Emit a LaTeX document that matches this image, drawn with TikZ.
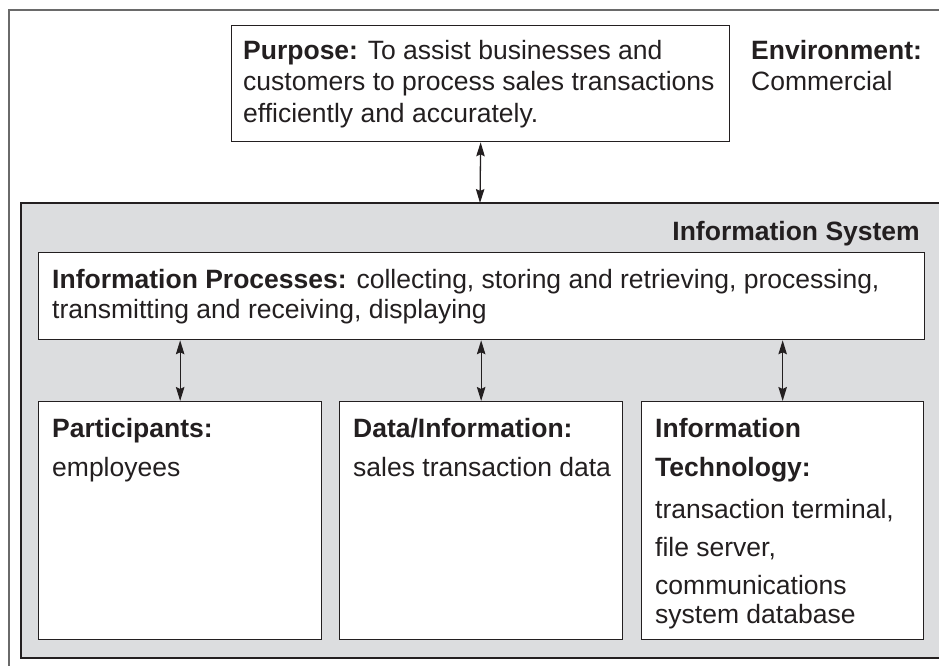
\documentclass[tikz,border=0pt]{standalone}
\usepackage{fontspec}
\setmainfont{Liberation Sans}
\usetikzlibrary{arrows.meta}
\definecolor{sysgray}{HTML}{DCDDDF}
\definecolor{framegray}{HTML}{6A6A6A}
\definecolor{ink}{HTML}{231F20}
\begin{document}
\begin{tikzpicture}[x=1pt,y=-1pt,
  box/.style={draw=ink,line width=1.3pt,fill=white,inner sep=0pt,anchor=north west},
  txt/.style={anchor=base west,inner sep=0pt,font=\fontsize{26.5}{30}\selectfont,text=ink},
  txtr/.style={anchor=base east,inner sep=0pt,font=\fontsize{26.5}{30}\selectfont,text=ink},
  tip/.style={Stealth[length=14pt,width=8.5pt,inset=2pt]},
  arr/.style={draw=ink,line width=1.3pt,{Stealth[length=14pt,width=8.5pt,inset=2pt]}-{Stealth[length=14pt,width=8.5pt,inset=2pt]}}]
\useasboundingbox (0,0) rectangle (939,666);
% outer environment frame
\draw[framegray,line width=2pt] (9,666) -- (9,10) -- (939,10);
% information system area
\fill[sysgray] (21,203) rectangle (939,658);
\draw[ink,line width=1.4pt] (939,203) -- (21,203) -- (21,658) -- (939,658);
\coordinate (systop) at (480,203);
% boxes
\node[box,minimum width=498,minimum height=116] (purpose) at (231,25) {};
\node[box,minimum width=886,minimum height=87] (proc) at (38,252) {};
\node[box,minimum width=283,minimum height=238] (part) at (38,401) {};
\node[box,minimum width=283,minimum height=238] (data) at (339,401) {};
\node[box,minimum width=282,minimum height=238] (tech) at (641,401) {};
% connectors
\draw[arr] (purpose.south) -- (systop);
\draw[arr] (proc.south -| part.north) -- (part.north);
\draw[arr] (proc.south -| data.north) -- (data.north);
\draw[arr] (proc.south -| tech.north) -- (tech.north);
% texts
\node[txt] (p1) at (243,60) {\textbf{Purpose:} To assist businesses and};
\node[txt] (p2) at (243,91) {customers to process sales transactions};
\node[txt] (p3) at (243,122) {efficiently and accurately.};
\node[txt] (e1) at (751,60) {\textbf{Environment:}};
\node[txt] (e2) at (751,91) {Commercial};
\node[txtr] (is) at (920,240) {\textbf{Information System}};
\node[txt] (ip1) at (52,288) {\textbf{Information Processes:} collecting, storing and retrieving, processing,};
\node[txt] (ip2) at (52,318) {transmitting and receiving, displaying};
\node[txt] (pa1) at (52,437) {\textbf{Participants:}};
\node[txt] (pa2) at (52,476) {employees};
\node[txt] (d1) at (353,437) {\textbf{Data/Information:}};
\node[txt] (d2) at (353,476) {sales transaction data};
\node[txt] (t1) at (655,437) {\textbf{Information}};
\node[txt] (t2) at (655,476) {\textbf{Technology:}};
\node[txt] (t3) at (655,518) {transaction terminal,};
\node[txt] (t4) at (655,556) {file server,};
\node[txt] (t5) at (655,594) {communications};
\node[txt] (t6) at (655,623) {system database};
\end{tikzpicture}
\end{document}
